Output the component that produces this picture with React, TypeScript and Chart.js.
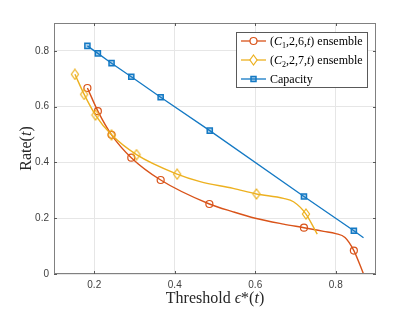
import React, { useEffect, useRef } from 'react';
import { Chart, registerables } from 'chart.js';

Chart.register(...registerables);

const xTicks = [0.2, 0.4, 0.6, 0.8];
const yTicks = [0, 0.2, 0.4, 0.6, 0.8];

const c1MarkX = [0.183, 0.209, 0.243, 0.292, 0.365, 0.486, 0.721, 0.845];
const c1MarkY = [0.667, 0.584, 0.499, 0.417, 0.337, 0.251, 0.166, 0.084];
const c1ExtraX = [0.545, 0.6, 0.67, 0.77, 0.8, 0.823, 0.869];
const c1ExtraY = [0.223, 0.2, 0.179, 0.153, 0.145, 0.131, 0.0];

const c2MarkX = [0.152, 0.175, 0.203, 0.243, 0.305, 0.406, 0.603, 0.726];
const c2MarkY = [0.716, 0.644, 0.57, 0.499, 0.428, 0.358, 0.287, 0.215];
const c2ExtraX = [0.463, 0.545, 0.67, 0.695, 0.754];
const c2ExtraY = [0.331, 0.307, 0.271, 0.259, 0.143];

const capMarkX = [0.183, 0.209, 0.243, 0.292, 0.365, 0.487, 0.721, 0.845];
const capMarkY = [0.818, 0.791, 0.756, 0.707, 0.634, 0.514, 0.278, 0.155];
const capExtraX = [0.869];
const capExtraY = [0.13];

const RED = '#D95319';
const YEL = '#EDB120';
const BLUE = '#1479c4';
const SERIF = "'Liberation Serif', 'Times New Roman', serif";
const SANS = "'Liberation Sans', Arial, sans-serif";

function pts(xs: number[], ys: number[]) {
  return xs.map((x, i) => ({ x, y: ys[i] }));
}
function merged(ax: number[], ay: number[], bx: number[], by: number[]) {
  return [...pts(ax, ay), ...pts(bx, by)].sort((a, b) => a.x - b.x);
}

function makeDiamond(): HTMLCanvasElement {
  const c = document.createElement('canvas');
  c.width = 10;
  c.height = 12;
  const g = c.getContext('2d')!;
  g.strokeStyle = YEL;
  g.lineWidth = 1.2;
  g.beginPath();
  g.moveTo(5, 1);
  g.lineTo(8.6, 6);
  g.lineTo(5, 11);
  g.lineTo(1.4, 6);
  g.closePath();
  g.stroke();
  return c;
}

type Seg = [string, 'n' | 'i' | 's'];

function drawRich(ctx: CanvasRenderingContext2D, segs: Seg[], x: number, y: number, size: number, align: 'left' | 'center') {
  const fontFor = (k: string) =>
    k === 'i' ? `italic ${size}px ${SERIF}` : k === 's' ? `${Math.round(size * 0.7)}px ${SERIF}` : `${size}px ${SERIF}`;
  let total = 0;
  for (const [t, k] of segs) {
    ctx.font = fontFor(k);
    total += ctx.measureText(t).width;
  }
  let cx = align === 'center' ? x - total / 2 : x;
  ctx.textAlign = 'left';
  ctx.textBaseline = 'alphabetic';
  for (const [t, k] of segs) {
    ctx.font = fontFor(k);
    ctx.fillText(t, cx, k === 's' ? y + size * 0.25 : y);
    cx += ctx.measureText(t).width;
  }
}

const decorPlugin = {
  id: 'decor',
  afterDraw(chart: any) {
    const ctx: CanvasRenderingContext2D = chart.ctx;
    const { left, right, top, bottom } = chart.chartArea;
    const xs = chart.scales.x;
    const ys = chart.scales.y;
    ctx.save();
    ctx.strokeStyle = '#808080';
    ctx.lineWidth = 1;
    ctx.strokeRect(Math.round(left) + 0.5, Math.round(top) + 0.5, Math.round(right - left) - 1, Math.round(bottom - top) - 1);
    ctx.strokeStyle = '#595959';
    ctx.beginPath();
    for (const v of xTicks) {
      const px = Math.round(xs.getPixelForValue(v)) + 0.5;
      ctx.moveTo(px, bottom);
      ctx.lineTo(px, bottom - 3);
      ctx.moveTo(px, top);
      ctx.lineTo(px, top + 3);
    }
    for (const v of yTicks) {
      const py = Math.round(ys.getPixelForValue(v)) + 0.5;
      ctx.moveTo(left, py);
      ctx.lineTo(left + 3, py);
      ctx.moveTo(right, py);
      ctx.lineTo(right - 3, py);
    }
    ctx.stroke();

    ctx.fillStyle = '#262626';
    drawRich(ctx, [['Threshold ', 'n'], ['\u03F5', 'i'], ['*', 'n'], ['(', 'n'], ['t', 'i'], [')', 'n']], (left + right) / 2, 303, 16, 'center');
    ctx.save();
    ctx.translate(31, (top + bottom) / 2);
    ctx.rotate(-Math.PI / 2);
    drawRich(ctx, [['Rate(', 'n'], ['t', 'i'], [')', 'n']], 0, 0, 16, 'center');
    ctx.restore();

    const bx = 236.5, by = 32.5, bw = 131, bh = 55;
    ctx.fillStyle = '#ffffff';
    ctx.fillRect(bx, by, bw, bh);
    ctx.strokeStyle = '#595959';
    ctx.lineWidth = 1;
    ctx.strokeRect(bx, by, bw, bh);
    const rows: { color: string; mk: string; segs: Seg[] }[] = [
      { color: RED, mk: 'o', segs: [['(', 'n'], ['C', 'i'], ['1', 's'], [',2,6,', 'n'], ['t', 'i'], [') ensemble', 'n']] },
      { color: YEL, mk: 'd', segs: [['(', 'n'], ['C', 'i'], ['2', 's'], [',2,7,', 'n'], ['t', 'i'], [') ensemble', 'n']] },
      { color: BLUE, mk: 's', segs: [['Capacity', 'n']] },
    ];
    rows.forEach((r, i) => {
      const ry = 41 + i * 19;
      ctx.strokeStyle = r.color;
      ctx.lineWidth = 1.3;
      ctx.beginPath();
      ctx.moveTo(241, ry);
      ctx.lineTo(266, ry);
      ctx.stroke();
      ctx.fillStyle = r.mk === 's' ? 'rgba(20,121,196,0.35)' : '#ffffff';
      ctx.lineWidth = r.mk === 's' ? 1.5 : 1.2;
      ctx.beginPath();
      if (r.mk === 'o') {
        ctx.arc(253.5, ry, 3.5, 0, Math.PI * 2);
      } else if (r.mk === 'd') {
        ctx.moveTo(253.5, ry - 5);
        ctx.lineTo(257.1, ry);
        ctx.lineTo(253.5, ry + 5);
        ctx.lineTo(249.9, ry);
        ctx.closePath();
      } else {
        ctx.rect(251, ry - 2.5, 5, 5);
      }
      ctx.fill();
      ctx.stroke();
      ctx.fillStyle = '#000000';
      drawRich(ctx, r.segs, 270, ry + 4, 12, 'left');
    });
    ctx.restore();
  },
};

export default function App() {
  const ref = useRef<HTMLCanvasElement | null>(null);
  useEffect(() => {
    if (!ref.current) return;
    const diamond = makeDiamond();
    const chart = new Chart(ref.current, {
      type: 'line',
      data: {
        datasets: [
          {
            label: 'c1 curve',
            data: merged(c1MarkX, c1MarkY, c1ExtraX, c1ExtraY),
            borderColor: RED,
            borderWidth: 1.4,
            pointRadius: 0,
            cubicInterpolationMode: 'monotone',
            fill: false,
            order: 6,
          },
          {
            label: '(C1,2,6,t) ensemble',
            data: pts(c1MarkX, c1MarkY),
            showLine: false,
            borderColor: RED,
            backgroundColor: 'rgba(0,0,0,0)',
            pointRadius: 3.5,
            pointBorderWidth: 1.2,
            order: 5,
          },
          {
            label: 'c2 curve',
            data: merged(c2MarkX, c2MarkY, c2ExtraX, c2ExtraY),
            borderColor: YEL,
            borderWidth: 1.4,
            pointRadius: 0,
            cubicInterpolationMode: 'monotone',
            fill: false,
            order: 4,
          },
          {
            label: '(C2,2,7,t) ensemble',
            data: pts(c2MarkX, c2MarkY),
            showLine: false,
            borderColor: YEL,
            backgroundColor: 'rgba(0,0,0,0)',
            pointStyle: diamond as any,
            pointRadius: 5,
            order: 3,
          },
          {
            label: 'Capacity',
            data: merged(capMarkX, capMarkY, capExtraX, capExtraY),
            borderColor: BLUE,
            borderWidth: 1.3,
            backgroundColor: 'rgba(20,121,196,0.35)',
            pointStyle: 'rect',
            pointRadius: (c: any) => (c.raw && capExtraX.includes(c.raw.x) ? 0 : 3.6),
            pointBorderWidth: 1.5,
            fill: false,
            order: 1,
          },
        ],
      },
      options: {
        animation: false,
        responsive: false,
        layout: { padding: { left: 0, right: 39, top: 23, bottom: 0 } },
        plugins: { legend: { display: false }, tooltip: { enabled: false } },
        scales: {
          x: {
            type: 'linear',
            min: 0.1,
            max: 0.9,
            afterBuildTicks: (s: any) => {
              s.ticks = xTicks.map((v) => ({ value: v }));
            },
            afterFit: (s: any) => {
              s.height = 38;
            },
            ticks: {
              padding: 5,
              color: '#404040',
              font: { family: SANS, size: 10 },
              callback: (v: any) => String(v),
            },
            grid: { color: '#e6e6e6', drawTicks: false, lineWidth: 1 },
            border: { display: false },
          },
          y: {
            type: 'linear',
            min: 0,
            max: 0.9,
            afterBuildTicks: (s: any) => {
              s.ticks = yTicks.map((v) => ({ value: v }));
            },
            afterFit: (s: any) => {
              s.width = 54;
            },
            ticks: {
              padding: 5,
              color: '#404040',
              font: { family: SANS, size: 10 },
              callback: (v: any) => String(v),
            },
            grid: { color: '#e6e6e6', drawTicks: false, lineWidth: 1 },
            border: { display: false },
          },
        },
      },
      plugins: [decorPlugin],
    });
    return () => chart.destroy();
  }, []);
  return (
    <div style={{ position: 'fixed', left: 0, top: 0, width: 415, height: 312, background: '#fff' }}>
      <canvas ref={ref} width={415} height={312} style={{ width: 415, height: 312, display: 'block' }} />
    </div>
  );
}
